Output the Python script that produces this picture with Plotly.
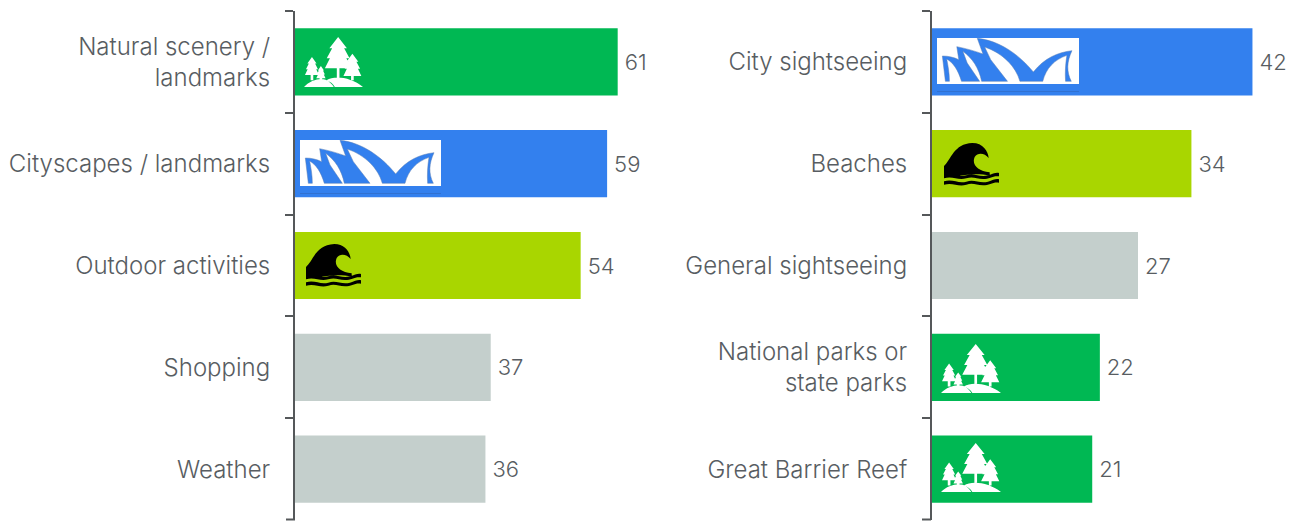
import base64
import plotly.graph_objects as go

W, H = 1296, 522

left_labels = ["Natural scenery /<br>landmarks", "Cityscapes / landmarks", "Outdoor activities", "Shopping", "Weather"]
left_values = [61, 59, 54, 37, 36]
left_colors = ["#00B853", "#3380EE", "#A9D600", "#C4CFCC", "#C4CFCC"]

right_labels = ["City sightseeing", "Beaches", "General sightseeing", "National parks or<br>state parks", "Great Barrier Reef"]
right_values = [42, 34, 27, 22, 21]
right_colors = ["#3380EE", "#A9D600", "#C4CFCC", "#00B853", "#00B853"]

TEXT = "#585D62"
AXIS = "#55585A"
FONT = "Inter"


def fir(cx, top, bottom, half, trunk_end):
    """One fir tree with three stacked tiers and a trunk."""
    h = bottom - top
    y1, y2 = top + h * 0.36, top + h * 0.68
    return (
        f"M{cx} {top}L{cx + half * .66} {y1}L{cx + half * .45} {y1}L{cx + half * .86} {y2}"
        f"L{cx + half * .62} {y2}L{cx + half} {bottom}L{cx + 4} {bottom}L{cx + 4} {trunk_end}"
        f"L{cx - 4} {trunk_end}L{cx - 4} {bottom}L{cx - half} {bottom}L{cx - half * .62} {y2}"
        f"L{cx - half * .86} {y2}L{cx - half * .45} {y1}L{cx - half * .66} {y1}Z"
    )


def svg_uri(body, box):
    svg = f'<svg xmlns="http://www.w3.org/2000/svg" viewBox="{box}">{body}</svg>'
    return "data:image/svg+xml;base64," + base64.b64encode(svg.encode()).decode()


forest_paths = " ".join([
    fir(160, 110, 204, 40, 232),
    fir(203, 160, 227, 27, 240),
    fir(81, 170, 224, 21, 240),
    fir(108, 197, 234, 14, 240),
    "M57 260C75 240 105 232 122 238C135 244 142 252 147 260Z",
    "M125 240C150 224 200 232 235 260L150 260C145 250 135 244 125 240Z",
])
FOREST = svg_uri(f'<path fill="#fff" d="{forest_paths}"/>', "57 110 178 150")

# Opera house silhouette: one outline with the white slivers cut in from below
shell_outline = (
    "M61 99C80 99 95 103 110 110L104 71C130 76 158 84 182 93L165 46"
    "C230 52 290 95 332 147C365 105 405 88 447 83C432 115 430 145 445 175L428 175"
    "C426 150 428 120 432 97C395 110 370 135 360 175L292 175C280 130 240 90 187 72"
    "L205 110L255 175L178 175C170 135 150 105 122 85L135 120L172 175L118 175"
    "C108 140 92 118 74 108C78 130 82 150 82 175L70 175Z"
)
OPERA = svg_uri(
    '<rect x="45" y="45" width="423" height="138" fill="#fff"/>'
    f'<path fill="#3380EE" stroke="#5A7FB5" stroke-width="1.5" d="{shell_outline}"/>'
    '<rect x="45" y="204" width="423" height="2" fill="#2F6AC4"/>',
    "45 45 423 162",
)

wave_paths = (
    "M63 158L63 127C85 108 92 60 148 58C180 58 195 82 197 103C185 88 165 85 155 100"
    "C145 122 165 143 200 146L200 155C170 150 125 150 100 160C85 164 75 160 63 158Z"
    "M63 154C90 146 105 162 130 155C155 147 170 162 195 155C210 150 220 145 228 148L228 158"
    "C210 155 200 166 180 166C160 166 150 157 130 164C105 172 90 156 63 164Z"
    "M63 173C90 165 105 181 130 174C155 166 170 181 195 174C210 169 220 164 228 167L228 177"
    "C210 174 200 185 180 185C160 185 150 176 130 183C105 191 90 175 63 183Z"
)
WAVE = svg_uri(f'<path fill="#000" d="{wave_paths}"/>', "63 58 165 129")


def place(source, x0, y0, x1, y1):
    return dict(
        source=source, xref="paper", yref="paper", xanchor="left", yanchor="top",
        x=x0 / W, y=1 - y0 / H, sizex=(x1 - x0) / W, sizey=(y1 - y0) / H,
        sizing="stretch", layer="above",
    )


icons = [
    place(FOREST, 304, 37, 363, 87),
    place(OPERA, 300, 140, 441, 194),
    place(WAVE, 306, 244, 361, 287),
    place(OPERA, 937, 38, 1079, 92),
    place(WAVE, 944, 143, 999, 186),
    place(FOREST, 941, 344, 1001, 393),
    place(FOREST, 941, 443, 1001, 492),
]

# Closing tick at the foot of each axis, where the category ticks stop
foot_ticks = [
    dict(type="line", xref="paper", yref="paper", x0=x0 / W, x1=(x0 + 9) / W,
         y0=1 - 519.5 / H, y1=1 - 519.5 / H, line=dict(color=AXIS, width=2))
    for x0 in (286, 922)
]

fig = go.Figure()
fig.add_bar(
    x=left_values, y=left_labels, orientation="h", xaxis="x", yaxis="y",
    marker=dict(color=left_colors, line_width=0),
)
fig.add_bar(
    x=right_values, y=right_labels, orientation="h", xaxis="x2", yaxis="y2",
    marker=dict(color=right_colors, line_width=0),
)
fig.update_traces(
    texttemplate="\u2009%{x}", textposition="outside", cliponaxis=False, width=0.66, showlegend=False,
    textfont=dict(family=FONT, size=22, color=TEXT, weight=300), hoverinfo="skip",
)

y_common = dict(
    type="category", range=[4.5, -0.5], tickson="boundaries",
    ticks="outside", ticklen=8, tickwidth=2, tickcolor=AXIS,
    showline=True, linewidth=2, linecolor=AXIS, showgrid=False, zeroline=False,
    tickfont=dict(family=FONT, size=24, color=TEXT, weight=300), ticklabelstandoff=18,
    domain=[1 - 520 / H, 1 - 11 / H],
)
x_common = dict(visible=False, showgrid=False, zeroline=False, fixedrange=True)

fig.update_layout(
    width=W, height=H, margin=dict(l=0, r=0, t=0, b=0),
    paper_bgcolor="white", plot_bgcolor="white", bargap=0.34,
    images=icons, shapes=foot_ticks,
    xaxis=dict(domain=[295 / W, 660 / W], range=[0, 365 / 5.29], anchor="y", **x_common),
    xaxis2=dict(domain=[932 / W, 1290 / W], range=[0, 358 / 7.63], anchor="y2", **x_common),
    yaxis=dict(anchor="x", **y_common),
    yaxis2=dict(anchor="x2", **y_common),
)

fig.write_html("out.html", config=dict(displayModeBar=False))
